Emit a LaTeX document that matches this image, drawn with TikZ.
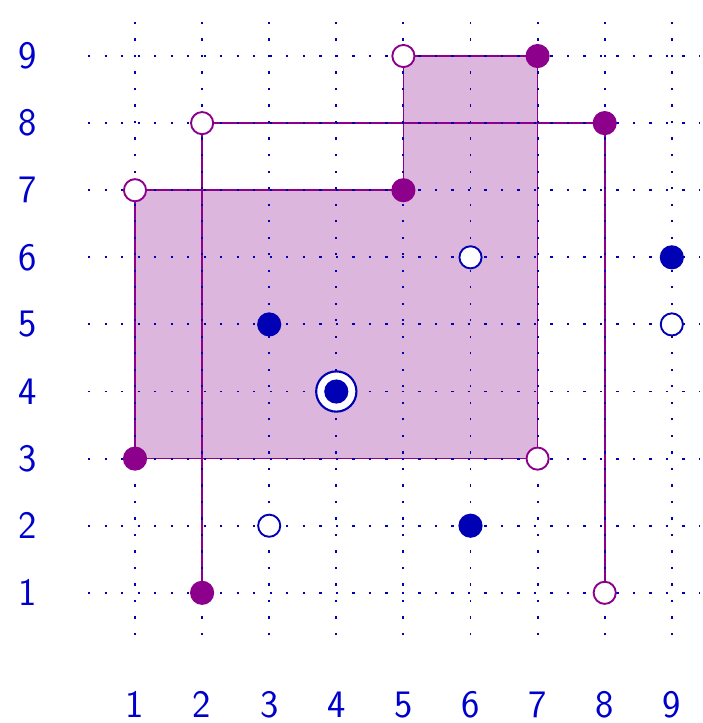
\documentclass[tikz,border=0pt]{standalone}
\usepackage{tikz}
\definecolor{gridblue}{RGB}{0,0,180}
\definecolor{labblue}{RGB}{0,0,205}
\definecolor{knotpurple}{RGB}{140,0,140}
\definecolor{regionfill}{RGB}{220,182,220}
\begin{document}
\begin{tikzpicture}[every node/.style={font=\fontsize{16.5}{20}\selectfont\sffamily},
	gridline/.style={gridblue, line width=0.8pt, dash pattern=on 1pt off 6pt},
	knotline/.style={knotpurple, line width=0.7pt},
	xmark/.style={circle, fill=knotpurple, minimum size=0.36cm, inner sep=0pt},
	omark/.style={circle, draw=knotpurple, fill=white, line width=0.8pt, minimum size=0.33cm, inner sep=0pt},
	bxmark/.style={circle, fill=gridblue, minimum size=0.36cm, inner sep=0pt},
	bomark/.style={circle, draw=gridblue, fill=white, line width=0.8pt, minimum size=0.33cm, inner sep=0pt}]
	\useasboundingbox (-1.012,-0.94) rectangle (9.45,9.835);
	% points of the grid diagram
	\foreach \n/\x/\y in {a/1/3, b/1/7, c/5/7, d/5/9, e/7/9, f/7/3, g/2/1, h/2/8, k/8/8, l/8/1} {
		\coordinate (\n) at (\x,\y);
	}
	\fill[regionfill] (a) -- (b) -- (c) -- (d) -- (e) -- (f) -- cycle;
	\draw[knotline] (a) -- (b) -- (c) -- (d) -- (e) -- (f) -- cycle;
	\draw[knotline] (g) -- (h) -- (k) -- (l);
	% dotted grid
	\foreach \i in {1,...,9} {\draw[gridline] (\i,0.37) -- (\i,9.69);}
	\foreach \j in {1,...,9} {\draw[gridline] (0.3,\j) -- (9.42,\j);}
	\foreach \i in {1,...,9} {\node[labblue] (xlab\i) at (\i,-0.67) {\i};}
	\foreach \j in {1,...,9} {\node[labblue] (ylab\j) at (-0.6,\j) {\j};}
	% markers
	\foreach \n in {a,c,e,g,k} {\node[xmark] (x\n) at (\n) {};}
	\foreach \n in {b,d,f,h,l} {\node[omark] (o\n) at (\n) {};}
	\foreach \x/\y in {3/5, 9/6, 6/2} {\node[bxmark] (bx\x\y) at (\x,\y) {};}
	\foreach \x/\y in {6/6, 9/5, 3/2} {\node[bomark] (bo\x\y) at (\x,\y) {};}
	\node[circle, draw=gridblue, fill=white, line width=0.9pt, minimum size=0.6cm, inner sep=0pt] (base) at (4,4) {};
	\node[bxmark] (basedot) at (base) {};
\end{tikzpicture}
\end{document}
